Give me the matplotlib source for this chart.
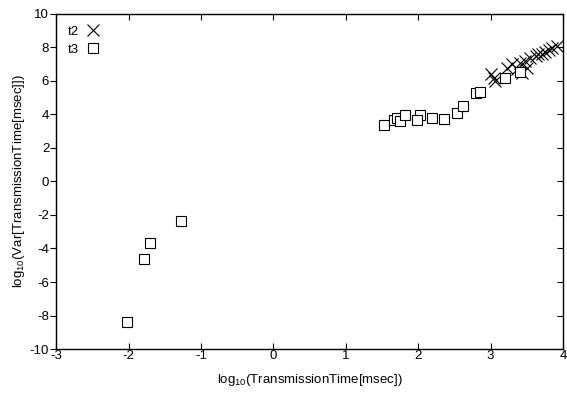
import matplotlib
matplotlib.use('Agg')
import matplotlib.pyplot as plt

plt.rcParams['font.family'] = 'Liberation Sans'
plt.rcParams['mathtext.fontset'] = 'custom'
plt.rcParams['mathtext.rm'] = 'Liberation Sans'
plt.rcParams['axes.unicode_minus'] = False

# t2 series (crosses)
t2_x = [3.00, 3.04, 3.06, 3.22, 3.29, 3.36, 3.41, 3.43, 3.48, 3.50,
        3.55, 3.62, 3.66, 3.71, 3.75, 3.80, 3.85, 3.92]
t2_y = [6.43, 6.19, 5.99, 6.78, 6.98, 6.69, 7.08, 6.49, 7.18, 6.78,
        7.38, 7.48, 7.58, 7.62, 7.73, 7.82, 7.94, 8.07]

# t3 series (squares)
t3_x = [-2.02, -1.78, -1.70, -1.27, 1.53, 1.66, 1.71, 1.75, 1.82, 2.03,
        1.99, 2.19, 2.35, 2.53, 2.62, 2.80, 2.85, 3.20, 3.40]
t3_y = [-8.40, -4.63, -3.68, -2.37, 3.37, 3.64, 3.78, 3.58, 3.98, 3.98,
        3.68, 3.76, 3.72, 4.08, 4.47, 5.26, 5.34, 6.15, 6.55]

fig = plt.figure(figsize=(5.67, 3.94), dpi=100)
ax = fig.add_axes([0.099, 0.114, 0.894, 0.851])

ax.plot(t2_x, t2_y, 'x', color='black', markersize=8.5, markeredgewidth=0.8, label='t2')
ax.plot(t3_x, t3_y, 's', color='black', markerfacecolor='white', markersize=7.5,
        markeredgewidth=0.8, label='t3')

ax.set_xlim(-3, 4)
ax.set_ylim(-10, 10)
ax.set_xticks(range(-3, 5))
ax.set_yticks(range(-10, 11, 2))
ax.tick_params(axis='x', direction='in', top=True, labelsize=9.5, length=4, pad=1)
ax.tick_params(axis='y', direction='out', right=False, labelsize=9.5, length=4, pad=1)
for s in ax.spines.values():
    s.set_linewidth(1)
    s.set_color('#333333')

# right side ticks point inward
axr = ax.twinx()
axr.set_ylim(-10, 10)
axr.set_yticks(range(-10, 11, 2))
axr.tick_params(axis='y', direction='in', length=4, labelright=False)

ax.set_xlabel(r'log$_{10}$(TransmissionTime[msec])', fontsize=9.5, labelpad=7)
ax.set_ylabel(r'log$_{10}$(Var[TransmissionTime[msec]])', fontsize=9.5, labelpad=2)

ax.legend(loc='upper left', bbox_to_anchor=(0.01, 0.985), frameon=False,
          markerfirst=False, fontsize=9.5, handlelength=1.2, handletextpad=0.5,
          labelspacing=0.45, borderaxespad=0.3, borderpad=0.2)

fig.savefig('out.png', dpi=100)
